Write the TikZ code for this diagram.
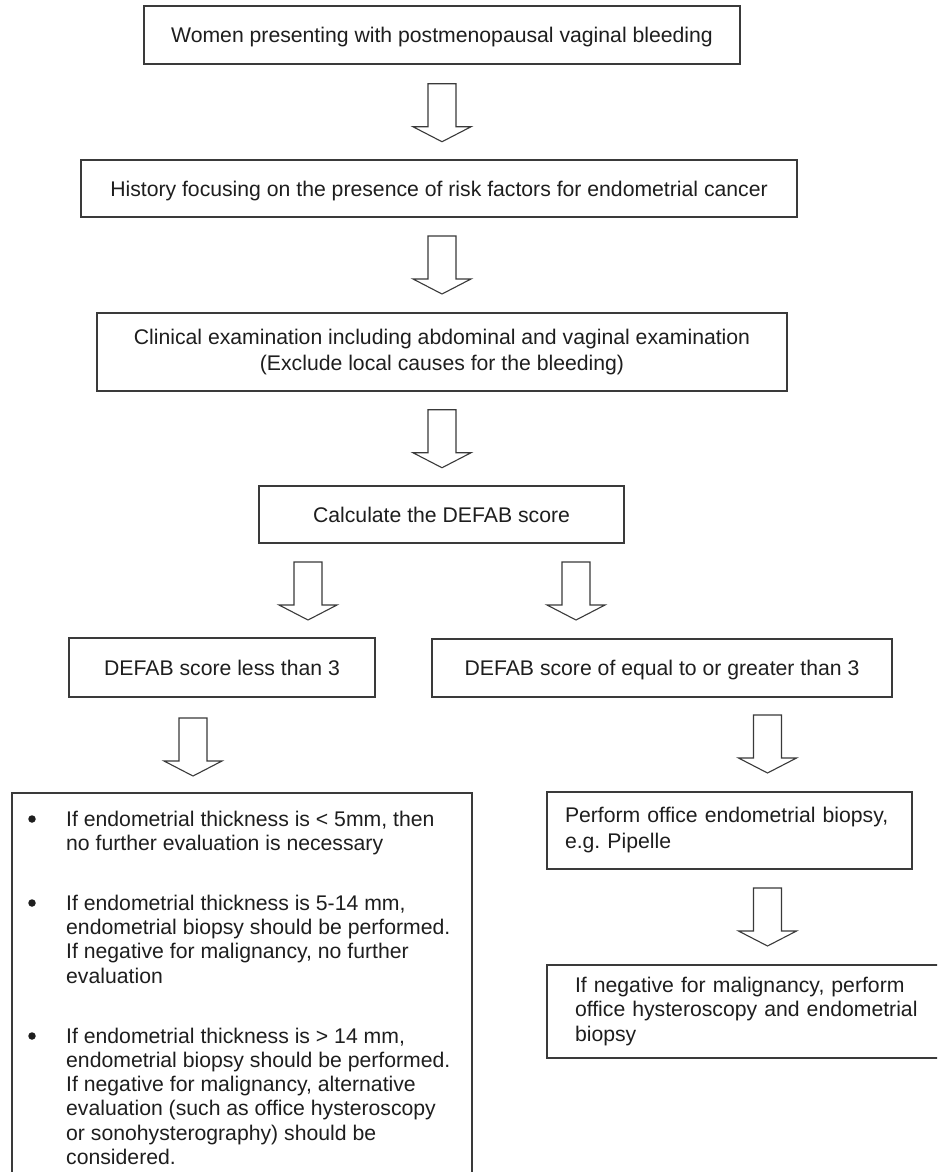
\documentclass[tikz,border=0pt]{standalone}
\usepackage{fontspec}
\setmainfont{Liberation Sans}
\usetikzlibrary{calc}
\newcommand\diagfont{\fontsize{21.2}{24.3}\selectfont\frenchspacing}
\definecolor{linegray}{HTML}{3A3A3A}
\definecolor{txtgray}{HTML}{1E1E1E}
\tikzset{
  box/.style={draw=linegray, line width=1.5pt, inner sep=0pt, text=txtgray, font=\diagfont},
  oneline/.style={text height=19.7, text depth=4.5},
  txt/.style={inner sep=0pt, text=txtgray, font=\diagfont},
  bulletdot/.style={circle, fill=txtgray, inner sep=0pt, minimum size=7.5},
  blockarr/.pic={\draw[draw=linegray, line width=1.1pt, line join=miter]
     (-14,0) -- (14,0) -- (14,43) -- (29,43) -- (0,58) -- (-29,43) -- (-14,43) -- cycle;}
}
\begin{document}
\begin{tikzpicture}[x=1pt,y=-1pt]
\useasboundingbox (0,0) rectangle (937,1172);
\clip (0,0) rectangle (937,1172);
\fill[white] (0,0) rectangle (937,1172);

% main column
\node[box, oneline, minimum width=596, minimum height=58] (n1) at (442,35)
  {Women presenting with postmenopausal vaginal bleeding};
\node[box, oneline, minimum width=716, minimum height=57] (n2) at (439,188.5)
  {History focusing on the presence of risk factors for endometrial cancer};
\node[box, minimum width=690, minimum height=78, align=center] (n3) at (442,352)
  {Clinical examination including abdominal and vaginal examination\\[1.7pt](Exclude local causes for the bleeding)};
\node[box, oneline, minimum width=365, minimum height=57] (n4) at (441.5,514.5)
  {Calculate the DEFAB score};
\node[box, oneline, minimum width=306, minimum height=59] (n5) at (222,667.5)
  {DEFAB score less than 3};
\node[box, oneline, minimum width=460, minimum height=58] (n6) at (662,668)
  {DEFAB score of equal to or greater than 3};

% lower left box (cropped at bottom)
\node[box, anchor=north west, minimum width=460, minimum height=430] (n7) at (11,792) {};
\node[bulletdot] (d1) at (32,819) {};
\node[txt, anchor=base west, align=left] (t1) at (66,850.3)
  {If endometrial thickness is < 5mm, then\\no further evaluation is necessary};
\node[bulletdot] (d2) at (32,903) {};
\node[txt, anchor=base west, align=left] (t2) at (66,983)
  {If endometrial thickness is 5-14 mm,\\endometrial biopsy should be performed.\\If negative for malignancy, no further\\evaluation};
\node[bulletdot] (d3) at (32,1036) {};
\node[txt, anchor=base west, align=left] (t3) at (66,1164.5)
  {If endometrial thickness is > 14 mm,\\endometrial biopsy should be performed.\\If negative for malignancy, alternative\\evaluation (such as office hysteroscopy\\or sonohysterography) should be\\considered.};

% right column
\node[box, minimum width=365, minimum height=77, text width=329, inner xsep=18, align=left] (n8) at (729.5,830.5)
  {Perform office endometrial biopsy,\\[1.7pt]e.g. Pipelle};
\node[box, minimum width=413, minimum height=93, text width=357, inner xsep=28, align=left] (n9) at (753.5,1011.5)
  {If negative for malignancy, perform\\office hysteroscopy and endometrial\\biopsy};

% block arrows
\coordinate (a1) at ($(n1.south)+(0,19)$);
\coordinate (a2) at (442,236);
\coordinate (a3) at ($(n3.south)+(0,18)$);
\coordinate (a4) at (308,562);
\coordinate (a5) at (576,562);
\coordinate (a6) at (193,718);
\coordinate (a7) at (767.5,715);
\coordinate (a8) at (767.5,888);
\foreach \c in {a1,a2,a3,a4,a5,a6,a7,a8} \pic at (\c) {blockarr};
\end{tikzpicture}
\end{document}
